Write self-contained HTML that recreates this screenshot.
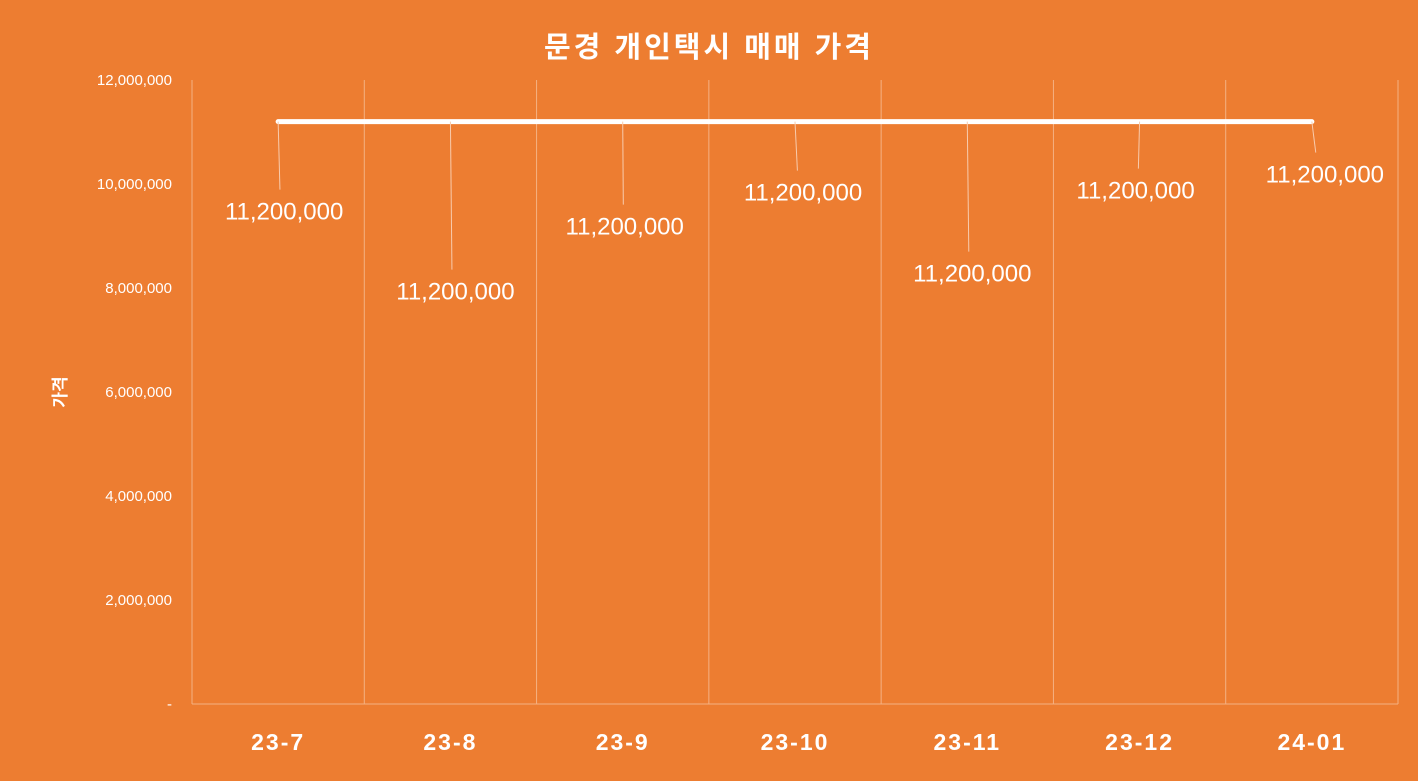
<!DOCTYPE html>
<html><head><meta charset="utf-8"><style>
html,body{margin:0;padding:0;background:#ED7D31;}
svg{display:block;font-family:"Liberation Sans","Noto Sans CJK KR",sans-serif;}
</style></head><body>
<svg id="chart" width="1418" height="781" viewBox="0 0 1418 781">
<rect x="0" y="0" width="1418" height="781" fill="#ED7D31"/>
<text x="709" y="57" text-anchor="middle" font-size="29" font-weight="bold" fill="#fff" letter-spacing="3">문경 개인택시 매매 가격</text>
<text transform="translate(66,392) rotate(-90)" text-anchor="middle" font-size="17" font-weight="bold" fill="#fff">가격</text>
<g id="grid"></g><g id="yticks"></g><g id="xticks"></g><g id="series"></g><g id="labels"></g>
</svg>
<script>
const categories = ["23-7","23-8","23-9","23-10","23-11","23-12","24-01"];
const values = [11200000,11200000,11200000,11200000,11200000,11200000,11200000];
const yTickValues = [0,2000000,4000000,6000000,8000000,10000000,12000000];
const yTickLabels = ["-","2,000,000","4,000,000","6,000,000","8,000,000","10,000,000","12,000,000"];
// label placement offsets (px) relative to each point
const labelDX = [6,5,2,8,5,-4,13];
const labelDY = [98,178,113,79,160,77,61];

const NS="http://www.w3.org/2000/svg";
const X0=192,X1=1398,Y0=704,Y1=80,YMAX=12000000;
const band=(X1-X0)/categories.length;
const xs=i=>X0+band*(i+0.5);
const ys=v=>Y0-(v/YMAX)*(Y0-Y1);
function mk(t,a,p){const e=document.createElementNS(NS,t);for(const k in a)e.setAttribute(k,a[k]);p.appendChild(e);return e;}
const grid=document.getElementById('grid');
for(let i=0;i<=categories.length;i++){
  const x=X0+band*i;
  const l=mk('line',{x1:x,x2:x,y1:Y1,y2:Y0,stroke:'#F4B183','stroke-width':1},grid);
  
  
}
const ax=mk('line',{x1:X0,x2:X1,y1:Y0,y2:Y0,stroke:'#F4B183','stroke-width':1},grid);


const yt=document.getElementById('yticks');
yTickValues.forEach((v,i)=>{
  const t=mk('text',{x:172,y:ys(v)+5,'text-anchor':'end','font-size':15,fill:'#fff'},yt);
  t.textContent=yTickLabels[i];
  
  
});
const xt=document.getElementById('xticks');
categories.forEach((c,i)=>{
  const t=mk('text',{x:xs(i),y:750,'text-anchor':'middle','font-size':23,'font-weight':'bold',fill:'#fff','letter-spacing':'2'},xt);
  t.textContent=c;
  
  
});
const ser=document.getElementById('series');
const pts=values.map((v,i)=>xs(i)+','+ys(v)).join(' ');
const pl=mk('polyline',{points:pts,fill:'none',stroke:'#fff','stroke-width':5,'stroke-linecap':'round'},ser);


const lb=document.getElementById('labels');
values.forEach((v,i)=>{
  const px=xs(i),py=ys(v),lx=px+labelDX[i],ly=py+labelDY[i];
  const ll=mk('line',{x1:px,y1:py,x2:px+labelDX[i]*0.3,y2:ly-30,stroke:'#F8CBAD','stroke-width':1},lb);
  
  
  const t=mk('text',{x:lx,y:ly,'text-anchor':'middle','font-size':24,fill:'#fff'},lb);
  t.textContent=v.toLocaleString('en-US');
  
  
});
</script>
</body></html>
